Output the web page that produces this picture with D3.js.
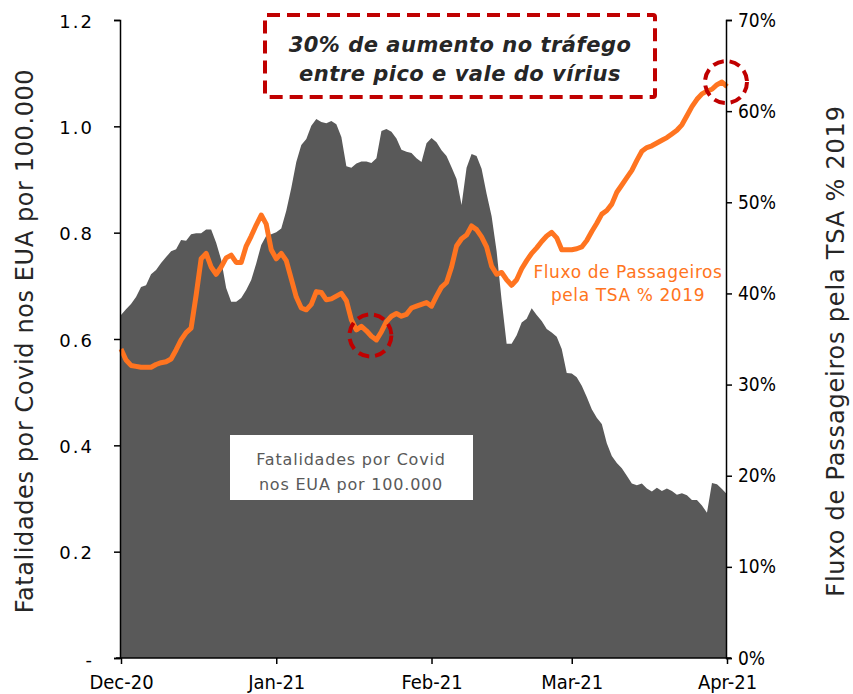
<!DOCTYPE html>
<html>
<head>
<meta charset="utf-8">
<script src="https://cdn.jsdelivr.net/npm/d3@7"></script>
<style>
  body { margin: 0; background: #fff; }
  svg { font-family: "DejaVu Sans", sans-serif; }
  .axis path, .axis line { stroke: #000; stroke-width: 1.5; }
  .axis text { font-family: "DejaVu Sans", sans-serif; font-size: 18px; fill: #000; letter-spacing: 0.5px; }
  .axis.cond text { font-family: "DejaVu Sans Condensed", "DejaVu Sans", sans-serif; letter-spacing: 0; }
</style>
</head>
<body>
<svg width="853" height="694"></svg>
<script>
// daily series from Dec 1 2020 to Apr 1 2021
var startDate = new Date(2020, 11, 1);

var deaths = [0.645, 0.656, 0.666, 0.679, 0.698, 0.701, 0.722, 0.730, 0.743, 0.754,
              0.765, 0.769, 0.786, 0.785, 0.797, 0.799, 0.799, 0.806, 0.806, 0.781,
              0.749, 0.696, 0.670, 0.670, 0.677, 0.692, 0.711, 0.742, 0.777, 0.794,
              0.797, 0.801, 0.808, 0.841, 0.884, 0.933, 0.965, 0.976, 1.001, 1.014,
              1.008, 1.006, 1.010, 1.004, 0.980, 0.925, 0.922, 0.930, 0.934, 0.934,
              0.931, 0.940, 0.991, 0.995, 0.990, 0.977, 0.956, 0.952, 0.950, 0.940,
              0.933, 0.968, 0.978, 0.970, 0.955, 0.944, 0.923, 0.901, 0.852, 0.922,
              0.948, 0.944, 0.920, 0.873, 0.831, 0.765, 0.673, 0.591, 0.591, 0.607,
              0.631, 0.638, 0.658, 0.645, 0.634, 0.619, 0.612, 0.604, 0.581, 0.536,
              0.535, 0.528, 0.512, 0.491, 0.468, 0.452, 0.440, 0.404, 0.380, 0.367,
              0.357, 0.343, 0.328, 0.325, 0.328, 0.319, 0.313, 0.320, 0.314, 0.319,
              0.314, 0.307, 0.310, 0.306, 0.297, 0.297, 0.287, 0.273, 0.329, 0.327,
              0.318, 0.308];

var tsaPct = [33.9, 32.7, 32.1, 32.0, 31.9, 31.9, 31.9, 32.2, 32.4, 32.5,
              32.8, 33.8, 34.9, 35.7, 36.2, 39.8, 43.8, 44.4, 42.9, 42.1,
              42.9, 43.9, 44.2, 43.4, 43.4, 45.2, 46.3, 47.5, 48.6, 47.6,
              44.8, 43.8, 44.4, 43.6, 41.6, 39.6, 38.4, 38.2, 38.8, 40.2,
              40.1, 39.3, 39.4, 39.7, 40.0, 39.2, 37.1, 36.0, 36.4, 35.9,
              35.3, 34.9, 35.8, 36.9, 37.5, 37.8, 37.5, 37.7, 38.4, 38.6,
              38.8, 39.0, 38.6, 39.7, 40.7, 41.2, 42.9, 45.2, 46.0, 46.4,
              47.4, 47.0, 46.2, 45.1, 43.0, 42.1, 42.3, 41.5, 40.9, 41.5,
              42.7, 43.6, 44.4, 45.0, 45.7, 46.3, 46.7, 46.1, 44.8, 44.8,
              44.8, 44.9, 45.1, 45.8, 46.8, 47.7, 48.7, 49.1, 49.8, 51.1,
              51.9, 52.7, 53.5, 54.6, 55.6, 56.0, 56.2, 56.5, 56.8, 57.1,
              57.5, 57.9, 58.5, 59.5, 60.5, 61.3, 61.9, 62.2, 62.4, 62.9,
              63.2, 62.7];

var xTickDates = [new Date(2020, 11, 1), new Date(2021, 0, 1), new Date(2021, 1, 1),
                  new Date(2021, 2, 1), new Date(2021, 3, 1)];
var xTickLabels = ["Dec-20", "Jan-21", "Feb-21", "Mar-21", "Apr-21"];
var leftTicks = [0, 0.2, 0.4, 0.6, 0.8, 1.0, 1.2];
var rightTicks = [0, 10, 20, 30, 40, 50, 60, 70];

var svg = d3.select("svg");

var plotL = 121, plotR = 727, plotT = 20, plotB = 658;

var x = d3.scaleTime().domain([startDate, new Date(2021, 3, 1)]).range([plotL, plotR]);
var yL = d3.scaleLinear().domain([0, 1.2]).range([plotB, plotT]);
var yR = d3.scaleLinear().domain([0, 70]).range([plotB, plotT]);

var dateOf = function (i) { return d3.timeDay.offset(startDate, i); };

// gray area
svg.append("path")
.datum(deaths)
.attr("fill", "#595959")
.attr("d", d3.area()
  .x(function (d, i) { return x(dateOf(i)); })
  .y0(yL(0))
  .y1(function (d) { return yL(d); }));

// orange TSA line
svg.append("path")
.datum(tsaPct)
.attr("fill", "none")
.attr("stroke", "#ff7420")
.attr("stroke-width", 5)
.attr("stroke-linejoin", "round")
.attr("d", d3.line()
  .x(function (d, i) { return x(dateOf(i)); })
  .y(function (d) { return yR(d); }));

// axes
svg.append("g")
.attr("class", "axis")
.attr("transform", "translate(" + (plotL - 1) + ",0)")
.call(d3.axisLeft(yL).tickValues(leftTicks).tickSizeOuter(0).tickSize(6).tickPadding(20)
  .tickFormat(function (d) { return d === 0 ? "-" : d.toFixed(1); }))
.selectAll(".tick text").attr("dy", "0.4em").style("letter-spacing", "2px");

svg.append("g")
.attr("class", "axis cond")
.attr("transform", "translate(" + (plotR - 1) + ",0)")
.call(d3.axisRight(yR).tickValues(rightTicks).tickSizeOuter(0).tickSize(6).tickPadding(6)
  .tickFormat(function (d) { return d + "%"; }))
.selectAll(".tick text").style("font-size", "19px");

var xAxis = svg.append("g")
.attr("class", "axis cond")
.attr("transform", "translate(0," + plotB + ")")
.call(d3.axisBottom(x).tickValues(xTickDates).tickSizeOuter(0).tickSize(6).tickPadding(11)
  .tickFormat(function (d, i) { return xTickLabels[i]; }));
xAxis.selectAll(".tick text").style("font-size", "20px");
xAxis.select(".domain").attr("d", "M" + (plotL - 5) + ",0H" + (plotR + 4));

// axis titles
svg.append("text")
.attr("transform", "translate(33,341) rotate(-90)")
.attr("text-anchor", "middle")
.attr("font-size", "24px")
.attr("letter-spacing", "0.6px")
.attr("fill", "#262626")
.text("Fatalidades por Covid nos EUA por 100.000");

svg.append("text")
.attr("transform", "translate(844,351) rotate(-90)")
.attr("text-anchor", "middle")
.attr("font-size", "24px")
.attr("letter-spacing", "0.8px")
.attr("fill", "#262626")
.text("Fluxo de Passageiros pela TSA % 2019");

// label box for the area
svg.append("rect")
.attr("x", 230).attr("y", 435).attr("width", 243).attr("height", 65)
.attr("fill", "#fff");
[["Fatalidades por Covid", 465], ["nos EUA por 100.000", 490]].forEach(function (t) {
  svg.append("text")
  .attr("x", 351).attr("y", t[1])
  .attr("text-anchor", "middle")
  .attr("font-size", "16px")
  .attr("letter-spacing", "0.8px")
  .attr("fill", "#595959")
  .text(t[0]);
});

// label for the line
[["Fluxo de Passageiros", 278], ["pela TSA % 2019", 301]].forEach(function (t) {
  svg.append("text")
  .attr("x", 628).attr("y", t[1])
  .attr("text-anchor", "middle")
  .attr("font-size", "17px")
  .attr("letter-spacing", "0.6px")
  .attr("fill", "#ff7420")
  .text(t[0]);
});

// callout box
svg.append("rect")
.attr("x", 265).attr("y", 15).attr("width", 390).attr("height", 82)
.attr("rx", 2)
.attr("fill", "none")
.attr("stroke", "#c00000")
.attr("stroke-width", 4)
.attr("stroke-dasharray", "13,7");
[["30% de aumento no tráfego", 52], ["entre pico e vale do vírius", 81]].forEach(function (t) {
  svg.append("text")
  .attr("x", 460).attr("y", t[1])
  .attr("text-anchor", "middle")
  .attr("font-size", "21px")
  .attr("letter-spacing", "0.5px")
  .attr("font-weight", "bold")
  .attr("font-style", "italic")
  .attr("fill", "#262626")
  .text(t[0]);
});

// dashed circles at trough and peak
[[new Date(2021, 0, 20), 35.5], [new Date(2021, 3, 1), 63.3]].forEach(function (c) {
  svg.append("circle")
  .attr("cx", x(c[0]) - 1)
  .attr("cy", yR(c[1]) + 1)
  .attr("r", 21)
  .attr("fill", "none")
  .attr("stroke", "#c00000")
  .attr("stroke-width", 4)
  .attr("stroke-dasharray", "11,6");
});
</script>
</body>
</html>
